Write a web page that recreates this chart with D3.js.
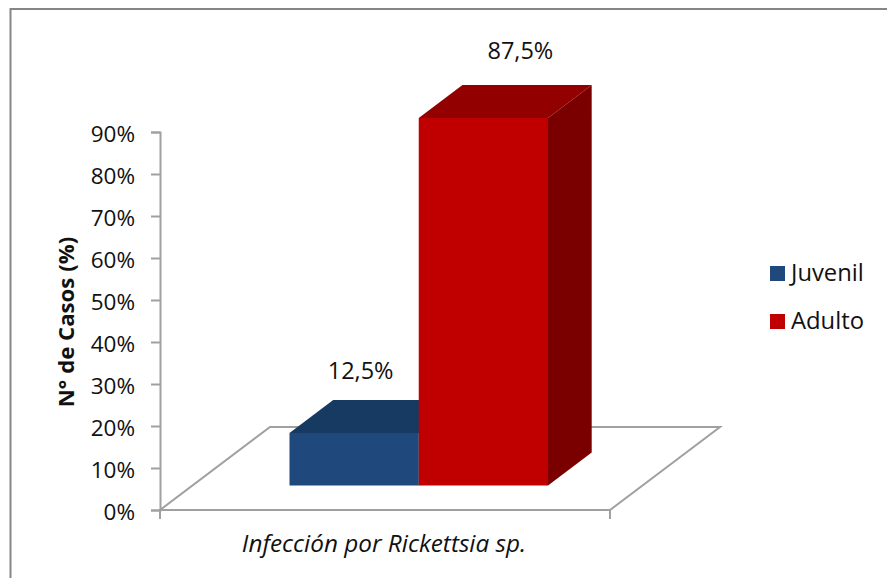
<!DOCTYPE html>
<html>
<head>
<meta charset="utf-8">
<script src="https://cdn.jsdelivr.net/npm/d3@7/dist/d3.min.js"></script>
<style>
html,body{margin:0;padding:0;background:#fff}
svg{display:block}
text{font-family:"Open Sans",Lato,sans-serif;fill:#111}
</style>
</head>
<body>
<svg id="chart" width="887" height="578"></svg>
<script>
// Chart data
const categories = ["Infección por Rickettsia sp."];
const seriesNames = ["Juvenil", "Adulto"];
const seriesValues = [12.5, 87.5];
const valueLabels = ["12,5%", "87,5%"];
const tickValues = [0, 10, 20, 30, 40, 50, 60, 70, 80, 90];
const faceColors = ["#1F497D", "#C00000"];
const topColors = ["#173A63", "#920000"];
const sideColors = ["#122E50", "#7A0000"];

const svg = d3.select("#chart");

// Outer chart frame
svg.append("rect").attr("x", 10.5).attr("y", 9).attr("width", 900).attr("height", 600)
  .attr("fill", "#fff").attr("stroke", "#868686").attr("stroke-width", 2);

const y = d3.scaleLinear().domain([0, 90]).range([510, 132]);
const floorX = d3.scaleBand().domain(categories).range([160, 610]);
const barX = d3.scaleBand().domain(seriesNames).range([289.5, 548]);

// Oblique projection offsets for the floor and the bar depth
const floorDepth = { dx: 110, dy: -83 };
const barDepth = { dx: 43.7, dy: -33 };
const barBase = 485.5;
const px = y(0) - y(1); // pixels per percentage point
const labelLift = [54, 59];   // label baseline above the front top edge
const labelShift = [6.5, 37]; // label centre right of the front face centre

const gray = "#A0A0A0";
const x0 = floorX(categories[0]);
const x1 = x0 + floorX.bandwidth();

// Floor parallelogram
svg.append("path")
  .attr("d", d3.line()([
    [x0, y(0)], [x1, y(0)],
    [x1 + floorDepth.dx, y(0) + floorDepth.dy],
    [x0 + floorDepth.dx, y(0) + floorDepth.dy]
  ]) + "Z")
  .attr("fill", "none").attr("stroke", gray).attr("stroke-width", 2);

// Value axis
const axis = svg.append("g").attr("transform", `translate(${x0},0)`)
  .call(d3.axisLeft(y).tickValues(tickValues).tickFormat(d => d + "%").tickSize(9).tickPadding(16));
axis.selectAll("path").attr("stroke", gray).attr("stroke-width", 2);
axis.selectAll("line").attr("stroke", gray).attr("stroke-width", 2);
axis.selectAll("text").attr("font-size", 22.5).attr("font-family", "Open Sans").attr("fill", "#111").attr("y", 2.5);

// Category ticks under the floor
svg.selectAll(".cat-tick").data([x0, x1]).join("line")
  .attr("class", "cat-tick")
  .attr("x1", d => d).attr("x2", d => d)
  .attr("y1", y(0)).attr("y2", y(0) + 9)
  .attr("stroke", gray).attr("stroke-width", 2);

// Bars as three visible faces: top, side, front
const bars = svg.selectAll(".bar")
  .data(seriesNames.map((name, i) => ({ name, value: seriesValues[i], i })))
  .join("g").attr("class", "bar");

bars.append("path")
  .attr("fill", d => topColors[d.i])
  .attr("d", d => {
    const l = barX(d.name), r = l + barX.bandwidth(), t = barBase - d.value * px;
    return d3.line()([[l, t], [r, t], [r + barDepth.dx, t + barDepth.dy], [l + barDepth.dx, t + barDepth.dy]]) + "Z";
  });
bars.append("path")
  .attr("fill", d => sideColors[d.i])
  .attr("d", d => {
    const r = barX(d.name) + barX.bandwidth(), t = barBase - d.value * px;
    return d3.line()([[r, t], [r + barDepth.dx, t + barDepth.dy], [r + barDepth.dx, barBase + barDepth.dy], [r, barBase]]) + "Z";
  });
bars.append("rect")
  .attr("fill", d => faceColors[d.i])
  .attr("x", d => barX(d.name))
  .attr("y", d => barBase - d.value * px)
  .attr("width", barX.bandwidth())
  .attr("height", d => d.value * px);

// Value labels above each bar
bars.append("text")
  .attr("x", d => barX(d.name) + barX.bandwidth() / 2 + labelShift[d.i])
  .attr("y", d => barBase - d.value * px - labelLift[d.i])
  .attr("text-anchor", "middle").attr("font-size", 23.5)
  .text(d => valueLabels[d.i]);

// Axis titles
svg.append("text")
  .attr("transform", "translate(74,322) rotate(-90)")
  .attr("text-anchor", "middle").attr("font-size", 22.2).attr("font-weight", 700)
  .text("N° de Casos (%)");
svg.append("text")
  .attr("x", 384).attr("y", 552)
  .attr("text-anchor", "middle").attr("font-size", 24.3).attr("font-style", "italic")
  .text(categories[0]);

// Legend
const legend = svg.selectAll(".legend").data(seriesNames).join("g").attr("class", "legend")
  .attr("transform", (d, i) => `translate(770,${266 + i * 48})`);
legend.append("rect").attr("width", 15).attr("height", 15).attr("fill", (d, i) => faceColors[i]);
legend.append("text").attr("x", 21).attr("y", 15).attr("font-size", 23.8).text(d => d);
</script>
</body>
</html>
